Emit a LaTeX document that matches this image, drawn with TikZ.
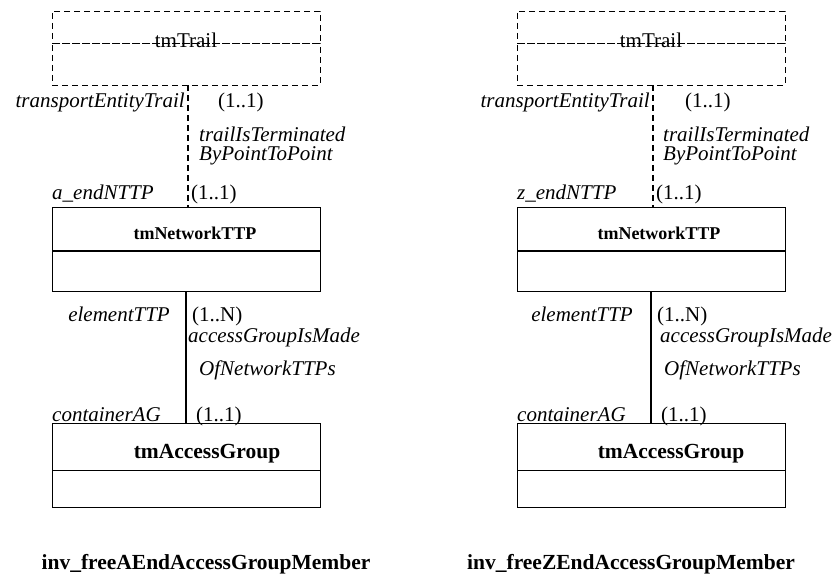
\documentclass[tikz,border=0pt]{standalone}
\usepackage{fontspec}
\setmainfont{Liberation Serif}
\usetikzlibrary{positioning}

\begin{document}
\begin{tikzpicture}[
    x=1pt, y=-1pt,
    every node/.style={inner sep=0pt, font=\fontsize{21}{21}\selectfont},
    classbox/.style={draw, line width=1pt, outer sep=0pt, minimum width=268pt},
    trailbox/.style={classbox, line width=0.9pt, dash pattern=on 6pt off 4pt},
    role/.style={font=\fontsize{21}{21}\selectfont\itshape},
    bfname/.style={font=\fontsize{#1}{#1}\selectfont\bfseries},
    trailline/.style={draw, line width=1.1pt, dash pattern=on 6pt off 4pt},
    aggline/.style={draw, line width=2.2pt},
    divider/.style={draw, line width=2.2pt}]

    \useasboundingbox (0,0) rectangle (838,577);

    % inv_freeAEndAccessGroupMember
    \node[trailbox, minimum height=32] (trailA) at (186,27) {};
    \node[trailbox, minimum height=42, below=0pt of trailA] (trailAbody) {};
    \node (trailAname) at (186,40) {tmTrail};
    \node[classbox, minimum height=43] (nttpA) at (186,229.5) {};
    \node[classbox, minimum height=41, below=0pt of nttpA] (nttpAbody) {};
    \draw[divider] (nttpA.south west) -- (nttpA.south east);
    \node[bfname=18, anchor=base] (nttpAname) at (195,240) {tmNetworkTTP};
    \node[classbox, minimum height=47] (agA) at (186,446.5) {};
    \node[classbox, minimum height=37, below=0pt of agA] (agAbody) {};
    \node[bfname=21.5, anchor=base] (agAname) at (207,458) {tmAccessGroup};

    \draw[trailline] ([xshift=2pt]trailAbody.south) -- ([xshift=2pt]nttpA.north);
    \draw[aggline] (nttpAbody.south) -- (agA.north);

    \node[role, anchor=base east] (teTrailA) at (185,108) {transportEntityTrail};
    \node[anchor=base west] (teMultA) at (218,108) {(1..1)};
    \node[role, anchor=base west] (termA) at (199,142) {trailIsTerminated};
    \node[role, anchor=base west] (termByA) at (199,161) {ByPointToPoint};
    \node[role, anchor=base west] (aEndA) at (52,200) {a\_endNTTP};
    \node[anchor=base west] (aEndMultA) at (191,200) {(1..1)};
    \node[role, anchor=base east] (elemA) at (170,322) {elementTTP};
    \node[anchor=base west] (elemMultA) at (192,322) {(1..N)};
    \node[role, anchor=base west] (madeA) at (188,342) {accessGroupIsMade};
    \node[role, anchor=base west] (madeOfA) at (199,375) {OfNetworkTTPs};
    \node[role, anchor=base west] (contA) at (52,421) {containerAG};
    \node[anchor=base west] (contMultA) at (196,421) {(1..1)};
    \node[bfname=21.5, anchor=base] (titleA) at (206,569) {inv\_freeAEndAccessGroupMember};

    % inv_freeZEndAccessGroupMember
    \node[trailbox, minimum height=32] (trailZ) at (651,27) {};
    \node[trailbox, minimum height=42, below=0pt of trailZ] (trailZbody) {};
    \node (trailZname) at (651,40) {tmTrail};
    \node[classbox, minimum height=43] (nttpZ) at (651,229.5) {};
    \node[classbox, minimum height=41, below=0pt of nttpZ] (nttpZbody) {};
    \draw[divider] (nttpZ.south west) -- (nttpZ.south east);
    \node[bfname=18, anchor=base] (nttpZname) at (659,240) {tmNetworkTTP};
    \node[classbox, minimum height=47] (agZ) at (651,446.5) {};
    \node[classbox, minimum height=37, below=0pt of agZ] (agZbody) {};
    \node[bfname=21.5, anchor=base] (agZname) at (671,458) {tmAccessGroup};

    \draw[trailline] ([xshift=2pt]trailZbody.south) -- ([xshift=2pt]nttpZ.north);
    \draw[aggline] (nttpZbody.south) -- (agZ.north);

    \node[role, anchor=base east] (teTrailZ) at (650,108) {transportEntityTrail};
    \node[anchor=base west] (teMultZ) at (685,108) {(1..1)};
    \node[role, anchor=base west] (termZ) at (663,142) {trailIsTerminated};
    \node[role, anchor=base west] (termByZ) at (663,161) {ByPointToPoint};
    \node[role, anchor=base west] (zEndZ) at (517,200) {z\_endNTTP};
    \node[anchor=base west] (zEndMultZ) at (656,200) {(1..1)};
    \node[role, anchor=base east] (elemZ) at (633,322) {elementTTP};
    \node[anchor=base west] (elemMultZ) at (657,322) {(1..N)};
    \node[role, anchor=base west] (madeZ) at (660,342) {accessGroupIsMade};
    \node[role, anchor=base west] (madeOfZ) at (664,375) {OfNetworkTTPs};
    \node[role, anchor=base west] (contZ) at (517,421) {containerAG};
    \node[anchor=base west] (contMultZ) at (661,421) {(1..1)};
    \node[bfname=21.5, anchor=base] (titleZ) at (631,569) {inv\_freeZEndAccessGroupMember};

\end{tikzpicture}
\end{document}
